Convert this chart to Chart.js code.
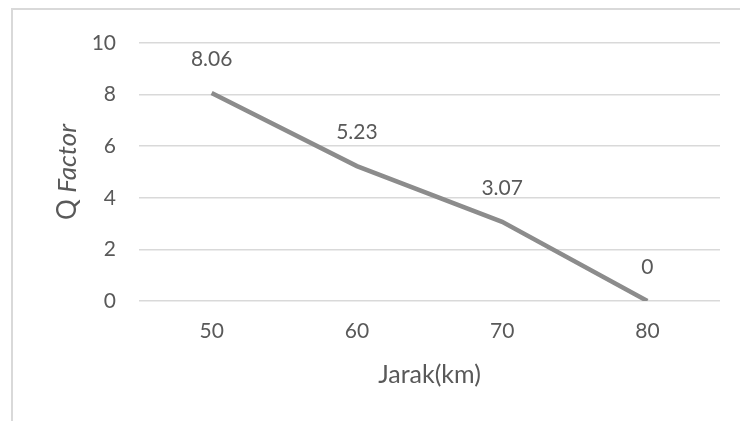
<!DOCTYPE html>
<html>
<head>
<meta charset="utf-8">
<script src="https://cdn.jsdelivr.net/npm/chart.js@4"></script>
<style>
  html, body { margin: 0; padding: 0; background: #fff; overflow: hidden; }
  #frame { position: absolute; left: 11px; top: 8px; width: 760px; height: 440px; border: 2px solid #d9d9d9; }
  #wrap { position: absolute; left: 0; top: 0; width: 740px; height: 421px; }
</style>
</head>
<body>
<div id="frame"></div>
<div id="wrap"><canvas id="chart" width="740" height="421"></canvas></div>
<script>
const distances = ["50", "60", "70", "80"];
const qFactor = [8.06, 5.23, 3.07, 0];
const yTicks = [0, 2, 4, 6, 8, 10];

const fontFamily = "Lato, 'Open Sans', sans-serif";
const textColor = "#595959";

// value labels above points + axis titles (y title has italic "Factor")
const extras = {
  id: "extras",
  afterDatasetsDraw(chart) {
    const ctx = chart.ctx;
    const meta = chart.getDatasetMeta(0);
    ctx.save();
    ctx.fillStyle = textColor;
    ctx.font = "21px " + fontFamily;
    ctx.textAlign = "center";
    ctx.textBaseline = "middle";
    meta.data.forEach((pt, i) => {
      ctx.fillText(String(qFactor[i]), pt.x, pt.y - 34);
    });

    const area = chart.chartArea;
    // x title
    ctx.font = "25px " + fontFamily;
    ctx.fillText("Jarak(km)", (area.left + area.right) / 2, 375);

    // y title, rotated
    ctx.translate(68, (area.top + area.bottom) / 2);
    ctx.rotate(-Math.PI / 2);
    ctx.font = "26px " + fontFamily;
    const a = "Q ";
    const wa = ctx.measureText(a).width;
    ctx.font = "italic 26px " + fontFamily;
    const b = "Factor";
    const wb = ctx.measureText(b).width;
    const start = -(wa + wb) / 2;
    ctx.textAlign = "left";
    ctx.font = "26px " + fontFamily;
    ctx.fillText(a, start, 0);
    ctx.font = "italic 26px " + fontFamily;
    ctx.fillText(b, start + wa, 0);
    ctx.restore();
  }
};

new Chart(document.getElementById("chart").getContext("2d"), {
  type: "line",
  data: {
    labels: distances,
    datasets: [{
      data: qFactor,
      borderColor: "#8c8c8c",
      borderWidth: 4.5,
      pointRadius: 0,
      tension: 0,
      fill: false
    }]
  },
  options: {
    responsive: false,
    animation: false,
    layout: { padding: { top: 43, right: 20, left: 0, bottom: 0 } },
    plugins: { legend: { display: false }, tooltip: { enabled: false } },
    scales: {
      x: {
        offset: true,
        grid: { display: false, drawTicks: false },
        border: { display: false },
        ticks: { color: textColor, font: { family: fontFamily, size: 21 }, padding: 18 },
        afterFit(scale) { scale.height = 120; }
      },
      y: {
        min: 0,
        max: 10,
        afterBuildTicks(scale) { scale.ticks = yTicks.map(v => ({ value: v })); },
        grid: { color: "#d9d9d9", lineWidth: 1.5, drawTicks: false },
        border: { display: false },
        ticks: { color: textColor, font: { family: fontFamily, size: 21 }, padding: 23 },
        afterFit(scale) { scale.width = 139; }
      }
    }
  },
  plugins: [extras]
});
</script>
</body>
</html>
